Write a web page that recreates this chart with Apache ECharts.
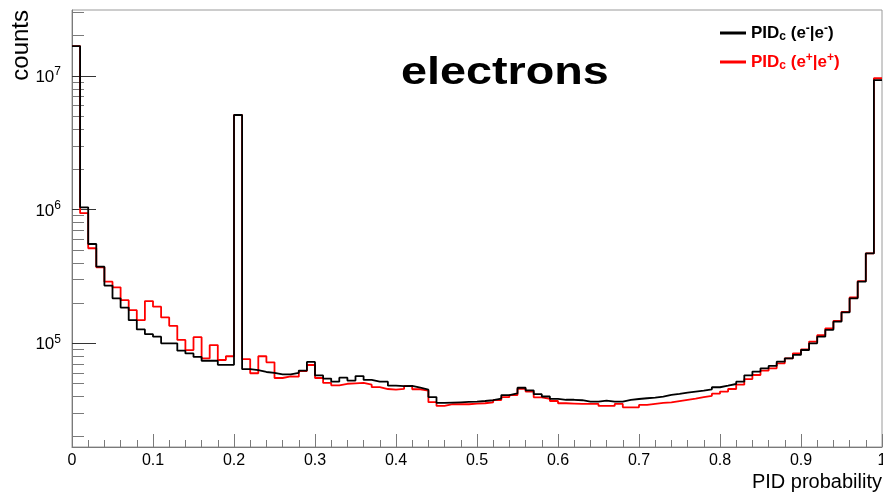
<!DOCTYPE html>
<html>
<head>
<meta charset="utf-8">
<script src="https://cdn.jsdelivr.net/npm/echarts@6/dist/echarts.min.js"></script>
<style>
  html, body { margin: 0; padding: 0; background: #fff; }
  #chart { width: 883px; height: 495px; }
</style>
</head>
<body>
<div id="chart"></div>
<script>
// Histogram binning: 100 bins of width 0.01 over the PID probability range
const xMin = 0;
const xMax = 1;
const binWidth = 0.01;

// Bin contents, PID_c (e-|e-)
const electronCounts = [
  1.67e7, 1.04e6, 5.53e5, 3.74e5, 2.70e5, 2.17e5, 1.85e5, 1.49e5, 1.27e5, 1.17e5,
  1.12e5, 1.00e5, 1.00e5, 8.8e4, 8.4e4, 7.9e4, 7.4e4, 7.4e4, 6.9e4, 6.9e4,
  5.1e6, 6.4e4, 6.3e4, 6.1e4, 6.0e4, 5.85e4, 5.85e4, 6.0e4, 6.25e4, 7.25e4,
  5.75e4, 5.45e4, 5.16e4, 5.53e4, 5.26e4, 5.69e4, 5.32e4, 5.16e4, 5.16e4, 4.82e4,
  4.78e4, 4.80e4, 4.65e4, 4.50e4, 3.96e4, 3.58e4, 3.60e4, 3.62e4, 3.64e4, 3.66e4,
  3.70e4, 3.75e4, 3.85e4, 4.10e4, 4.22e4, 4.65e4, 4.45e4, 4.16e4, 4.00e4, 3.84e4,
  3.78e4, 3.78e4, 3.75e4, 3.66e4, 3.66e4, 3.72e4, 3.66e4, 3.66e4, 3.77e4, 3.83e4,
  3.88e4, 3.92e4, 3.99e4, 4.11e4, 4.18e4, 4.27e4, 4.35e4, 4.42e4, 4.53e4, 4.69e4,
  4.82e4, 4.96e4, 5.16e4, 5.76e4, 6.14e4, 6.50e4, 6.77e4, 7.29e4, 7.72e4, 8.18e4,
  8.91e4, 1.00e5, 1.12e5, 1.26e5, 1.45e5, 1.70e5, 2.17e5, 2.89e5, 4.70e5, 9.3e6
];

// Bin contents, PID_c (e+|e+)
const positronCounts = [
  1.67e7, 9.4e5, 5.14e5, 3.70e5, 2.89e5, 2.62e5, 2.10e5, 1.77e5, 1.49e5, 2.07e5,
  1.88e5, 1.56e5, 1.35e5, 1.06e5, 8.9e4, 1.11e5, 7.7e4, 9.7e4, 7.5e4, 8.0e4,
  5.1e6, 7.6e4, 5.97e4, 8.0e4, 7.2e4, 5.5e4, 5.65e4, 5.63e4, 6.2e4, 6.88e4,
  5.5e4, 5.05e4, 4.85e4, 4.98e4, 5.02e4, 5.05e4, 4.9e4, 4.7e4, 4.55e4, 4.5e4,
  4.56e4, 4.80e4, 4.53e4, 4.42e4, 3.63e4, 3.40e4, 3.50e4, 3.50e4, 3.50e4, 3.54e4,
  3.56e4, 3.62e4, 3.76e4, 3.96e4, 4.10e4, 4.57e4, 4.35e4, 3.94e4, 3.84e4, 3.70e4,
  3.56e4, 3.54e4, 3.52e4, 3.52e4, 3.52e4, 3.40e4, 3.40e4, 3.52e4, 3.32e4, 3.32e4,
  3.46e4, 3.52e4, 3.58e4, 3.62e4, 3.70e4, 3.78e4, 3.86e4, 3.96e4, 4.05e4, 4.20e4,
  4.35e4, 4.55e4, 4.90e4, 5.40e4, 5.79e4, 6.24e4, 6.50e4, 7.08e4, 7.72e4, 8.41e4,
  9.0e4, 1.03e5, 1.15e5, 1.29e5, 1.47e5, 1.72e5, 2.20e5, 2.92e5, 4.71e5, 9.6e6
];

// Axis ticks and labels
const xTickLabels = ['0', '0.1', '0.2', '0.3', '0.4', '0.5', '0.6', '0.7', '0.8', '0.9', '1'];
const yMajorTicks = [1e5, 1e6, 1e7];
const yMajorExponents = ['5', '6', '7'];
const yMinorTicks = [
  2e4, 3e4, 4e4, 5e4, 6e4, 7e4, 8e4, 9e4,
  2e5, 3e5, 4e5, 5e5, 6e5, 7e5, 8e5, 9e5,
  2e6, 3e6, 4e6, 5e6, 6e6, 7e6, 8e6, 9e6,
  2e7, 3e7
];
const yMin = 1.676e4;
const yMax = 3.11e7;

const seriesNames = ['PIDc (e-|e-)', 'PIDc (e+|e+)'];
const seriesColors = ['#000000', '#ff0000'];
const titleText = 'electrons';
const xTitle = 'PID probability';
const yTitle = 'counts';

const FONT = '"Liberation Sans", Arial, Helvetica, sans-serif';

// Turn bin contents into step-line vertices at the bin lower edges,
// closing the last bin at the upper edge of the range.
function toSteps(counts) {
  const pts = counts.map((c, i) => [Number((xMin + i * binWidth).toFixed(4)), c]);
  pts.push([xMax, counts[counts.length - 1]]);
  return pts;
}

function legendRich(prefix, color) {
  const r = {};
  r[prefix] = { fontFamily: FONT, fontSize: 17, fontWeight: 'bold', color: color, lineHeight: 20, verticalAlign: 'middle' };
  r[prefix + 's'] = { fontFamily: FONT, fontSize: 12, fontWeight: 'bold', color: color, lineHeight: 8, verticalAlign: 'bottom' };
  r[prefix + 'p'] = { fontFamily: FONT, fontSize: 12, fontWeight: 'bold', color: color, lineHeight: 11, verticalAlign: 'top' };
  return r;
}

const chart = echarts.init(document.getElementById('chart'), null, { renderer: 'canvas' });

const option = {
  animation: false,
  backgroundColor: '#ffffff',
  grid: {
    left: 72, right: 1, top: 10, bottom: 48,
    show: true, borderColor: '#9a9a9a', borderWidth: 1,
    containLabel: false, outerBoundsMode: 'none'
  },
  legend: {
    orient: 'vertical',
    left: 720, top: 23,
    padding: 0,
    itemWidth: 26, itemHeight: 3, itemGap: 9,
    icon: 'rect',
    selectedMode: false,
    data: seriesNames,
    textStyle: {
      fontFamily: FONT, fontSize: 17, fontWeight: 'bold',
      rich: Object.assign({}, legendRich('k', seriesColors[0]), legendRich('r', seriesColors[1]))
    },
    formatter: function (name) {
      const p = name === seriesNames[0] ? 'k' : 'r';
      const sign = name === seriesNames[0] ? '-' : '+';
      return '{' + p + '|PID}{' + p + 's|c}{' + p + '| (e}{' + p + 'p|' + sign + '}{' + p + '||e}{' + p + 'p|' + sign + '}{' + p + '|)}';
    }
  },
  xAxis: {
    type: 'value', min: xMin, max: xMax, interval: 0.1,
    axisLine: { show: true, lineStyle: { color: '#7a7a7a', width: 1 } },
    axisTick: { show: true, inside: true, length: 13, lineStyle: { color: '#7a7a7a' } },
    minorTick: { show: true, splitNumber: 5, length: 7, lineStyle: { color: '#7a7a7a' } },
    splitLine: { show: false },
    minorSplitLine: { show: false },
    axisLabel: {
      show: true, margin: 6, fontFamily: FONT, fontSize: 16, color: '#000',
      showMinLabel: true, showMaxLabel: true,
      formatter: function (v) { return xTickLabels[Math.round(v * 10)]; }
    }
  },
  yAxis: [
    {
      type: 'log', logBase: 10, min: yMin, max: yMax, position: 'left',
      axisLine: { show: true, lineStyle: { color: '#7a7a7a', width: 1 } },
      axisTick: { show: true, inside: true, length: 24, customValues: yMajorTicks, lineStyle: { color: '#333' } },
      minorTick: { show: false },
      splitLine: { show: false },
      axisLabel: {
        show: true, margin: 11, customValues: yMajorTicks,
        formatter: function (v) {
          let k = 0, best = Infinity;
          yMajorTicks.forEach(function (t, i) {
            const d = Math.abs(Math.log10(t) - Math.log10(v));
            if (d < best) { best = d; k = i; }
          });
          return '{b|10}{e|' + yMajorExponents[k] + '}';
        },
        rich: {
          b: { fontFamily: FONT, fontSize: 17, color: '#000', lineHeight: 20, verticalAlign: 'bottom' },
          e: { fontFamily: FONT, fontSize: 12, color: '#000', lineHeight: 12, verticalAlign: 'top' }
        }
      }
    },
    {
      type: 'log', logBase: 10, min: yMin, max: yMax, position: 'left',
      axisLine: { show: false },
      axisTick: { show: true, inside: true, length: 12, customValues: yMinorTicks, lineStyle: { color: '#7a7a7a' } },
      axisLabel: { show: false },
      splitLine: { show: false },
      minorTick: { show: false }
    }
  ],
  graphic: [
    {
      type: 'text', x: 401, y: 74, scaleX: 1.23, silent: true,
      style: { text: titleText, fontFamily: FONT, fontSize: 38, fontWeight: 'bold', fill: '#000', align: 'left', verticalAlign: 'middle' }
    },
    {
      type: 'text', x: 21, y: 10, rotation: Math.PI / 2, silent: true,
      style: { text: yTitle, fontFamily: FONT, fontSize: 24, fill: '#000', align: 'right', verticalAlign: 'middle' }
    },
    {
      type: 'text', x: 882, y: 482.5, silent: true,
      style: { text: xTitle, fontFamily: FONT, fontSize: 20, fill: '#000', align: 'right', verticalAlign: 'middle' }
    }
  ],
  series: [
    {
      name: seriesNames[1], type: 'line', step: 'end', yAxisIndex: 0,
      data: toSteps(positronCounts),
      showSymbol: false, symbol: 'none', z: 2,
      lineStyle: { color: seriesColors[1], width: 1.8 },
      itemStyle: { color: seriesColors[1] },
      emphasis: { disabled: true }
    },
    {
      name: seriesNames[0], type: 'line', step: 'end', yAxisIndex: 0,
      data: toSteps(electronCounts),
      showSymbol: false, symbol: 'none', z: 3,
      lineStyle: { color: seriesColors[0], width: 1.8 },
      itemStyle: { color: seriesColors[0] },
      emphasis: { disabled: true }
    }
  ]
};

chart.setOption(option);
</script>
</body>
</html>
